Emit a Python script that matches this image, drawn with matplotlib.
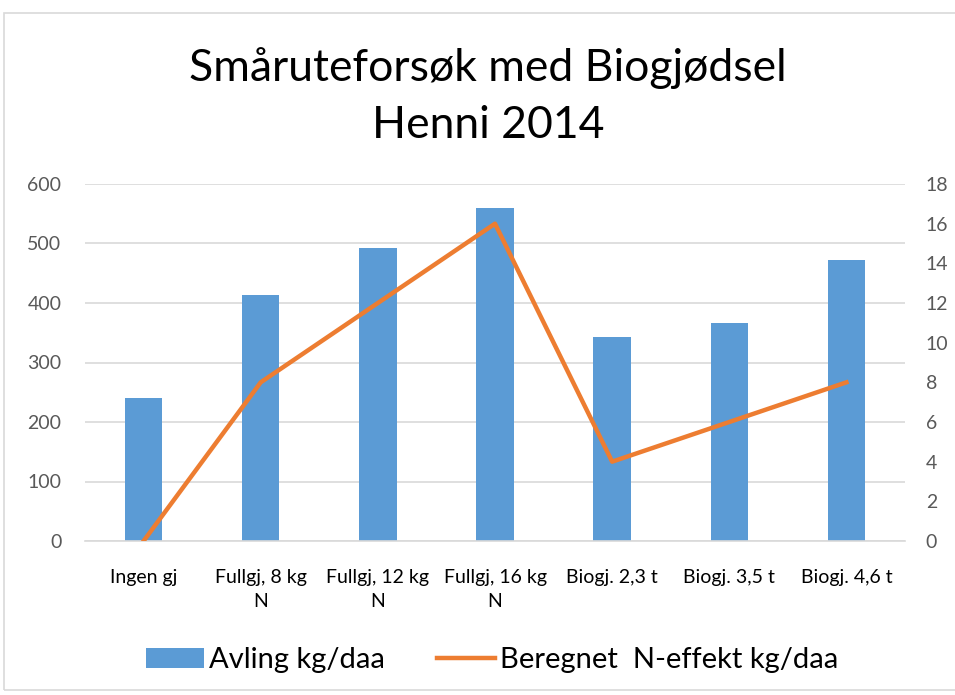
import matplotlib
matplotlib.use("Agg")
import matplotlib.pyplot as plt
from matplotlib.patches import Rectangle, Patch
from matplotlib.lines import Line2D
import numpy as np

categories = ["Ingen gj", "Fullgj, 8 kg\nN", "Fullgj, 12 kg\nN", "Fullgj, 16 kg\nN",
              "Biogj. 2,3 t", "Biogj. 3,5 t", "Biogj. 4,6 t"]
avling = [240, 413, 492, 560, 343, 367, 473]
n_effekt = [0, 8, 12, 16, 4, 6, 8]
left_ticks = [0, 100, 200, 300, 400, 500, 600]
right_ticks = [0, 2, 4, 6, 8, 10, 12, 14, 16, 18]

plt.rcParams['font.family'] = ['Lato', 'DejaVu Sans']

fig = plt.figure(figsize=(9.55, 6.95), dpi=100)
W, H = 955, 695
ax = fig.add_axes([85 / W, 1 - 541 / H, 820 / W, 357 / H])
ax2 = ax.twinx()

x = np.arange(len(categories))
ax.bar(x, avling, width=0.32, color="#5B9BD5", zorder=2)
ax2.plot(x, n_effekt, color="#ED7D31", linewidth=3.2, solid_joinstyle="round", zorder=3)

ax.set_xlim(-0.5, len(categories) - 0.5)
ax.set_ylim(0, 600)
ax2.set_ylim(0, 18)
ax.set_yticks(left_ticks)
ax2.set_yticks(right_ticks)
ax.set_xticks(x)
ax.set_xticklabels(categories, fontsize=14, color="#000000", linespacing=1.55)
ax.tick_params(axis="x", length=0, pad=20)
ax.tick_params(axis="y", length=0, labelsize=14, labelcolor="#595959", pad=17)
ax2.tick_params(axis="y", length=0, labelsize=14, labelcolor="#595959", pad=15)
ax.grid(axis="y", color="#D9D9D9", linewidth=1.2, zorder=0)
ax.set_axisbelow(True)
for a in (ax, ax2):
    for s in a.spines.values():
        s.set_visible(False)
ax.spines["bottom"].set_visible(True)
ax.spines["bottom"].set_color("#D9D9D9")
ax.spines["bottom"].set_linewidth(1.2)

fig.text(488 / W, 1 - 68 / H, "Småruteforsøk med Biogjødsel", ha="center", va="center",
         fontsize=32, color="#000000")
fig.text(488 / W, 1 - 126 / H, "Henni 2014", ha="center", va="center",
         fontsize=32, color="#000000")

handles = [Patch(facecolor="#5B9BD5", edgecolor="none"),
           Line2D([0], [0], color="#ED7D31", linewidth=3.2)]
fig.legend(handles, ["Avling kg/daa", "Beregnet  N-effekt kg/daa"],
           loc="center", bbox_to_anchor=(492 / W, 1 - 660 / H), ncol=2, frameon=False,
           fontsize=21, handlelength=2.0, handletextpad=0.15, columnspacing=1.8)

fig.add_artist(Rectangle((4 / W, 1 - 690 / H), 960 / W, 677 / H, transform=fig.transFigure,
                         fill=False, edgecolor="#D9D9D9", linewidth=1.2))

fig.savefig("out.png", dpi=100)
